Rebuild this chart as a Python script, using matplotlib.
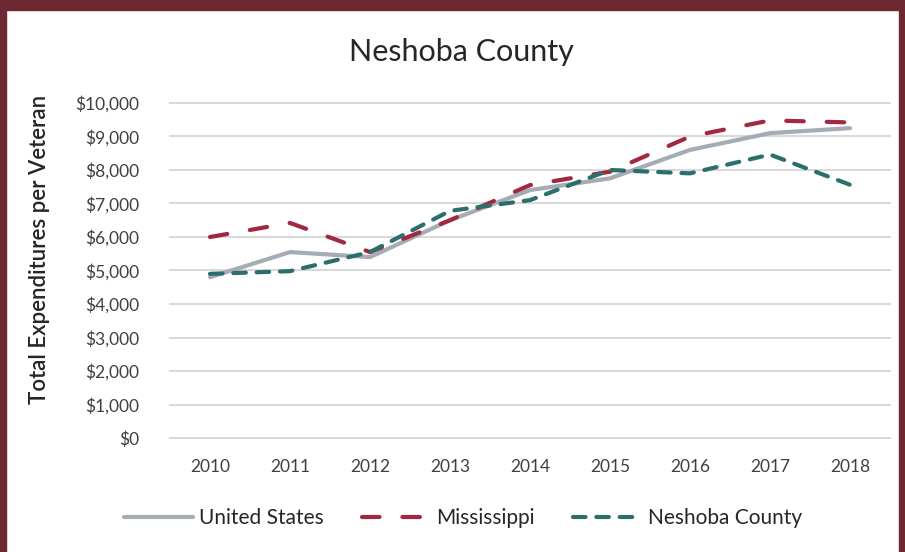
import matplotlib
matplotlib.use("Agg")
import matplotlib.pyplot as plt
from matplotlib.patches import Rectangle
from matplotlib.ticker import FuncFormatter

years = ["2010", "2011", "2012", "2013", "2014", "2015", "2016", "2017", "2018"]
united_states = [4800, 5550, 5400, 6500, 7400, 7750, 8600, 9100, 9250]
mississippi = [6000, 6420, 5550, 6500, 7550, 7950, 9000, 9480, 9420]
neshoba = [4900, 4980, 5550, 6780, 7100, 8000, 7900, 8460, 7560]

plt.rcParams['font.family'] = ['Lato', 'DejaVu Sans']

fig = plt.figure(figsize=(9.05, 5.52), dpi=100)
ax = fig.add_axes([170/905, 1-438/552, 720/905, 335/552])

x = list(range(len(years)))
lw = 3.0
ax.plot(x, united_states, color="#A6ACB4", lw=lw, solid_capstyle="round", label="United States", zorder=3)
ax.plot(x, mississippi, color="#A3283F", lw=lw, dashes=(4.2, 5.5), dash_capstyle="round", label="Mississippi", zorder=4)
ax.plot(x, neshoba, color="#2B6E6C", lw=lw, dashes=(3.0, 2.6), dash_capstyle="round", label="Neshoba County", zorder=5)

ax.set_xlim(-0.5, 8.5)
ax.set_ylim(0, 10000)
ax.set_yticks(range(0, 10001, 1000))
ax.yaxis.set_major_formatter(FuncFormatter(lambda v, p: "${:,.0f}".format(v)))
ax.set_xticks(x)
ax.set_xticklabels(years)
ax.grid(axis="y", color="#D9D9D9", lw=1.5)
for gl in ax.get_ygridlines():
    gl.set_clip_on(False)
ax.set_axisbelow(True)
for s in ax.spines.values():
    s.set_visible(False)
ax.tick_params(axis="both", length=0, labelsize=12.5, labelcolor="#404040")
ax.tick_params(axis="y", pad=22)
ax.tick_params(axis="x", pad=15)

fig.text(40/905, 1-249/552, "Total Expenditures per Veteran", rotation=90,
         ha="center", va="center", fontsize=16, fontweight="semibold", color="#262626")
fig.text(461/905, 1-52/552, "Neshoba County", ha="center", va="center",
         fontsize=22, color="#262626")

leg = ax.legend(loc="center", bbox_to_anchor=(463/905, 1-518/552), bbox_transform=fig.transFigure,
                ncol=3, frameon=False, fontsize=15, handlelength=3.3, columnspacing=1.8,
                handletextpad=0.3)
for t in leg.get_texts():
    t.set_color("#262626")

# frame border
border = "#6E2832"
fig.add_artist(Rectangle((0, 1-10/552), 1, 10/552, transform=fig.transFigure, color=border, zorder=10))
fig.add_artist(Rectangle((0, 0), 6/905, 1, transform=fig.transFigure, color=border, zorder=10))
fig.add_artist(Rectangle((1-6/905, 0), 6/905, 1, transform=fig.transFigure, color=border, zorder=10))

fig.savefig("out.png", dpi=100)
